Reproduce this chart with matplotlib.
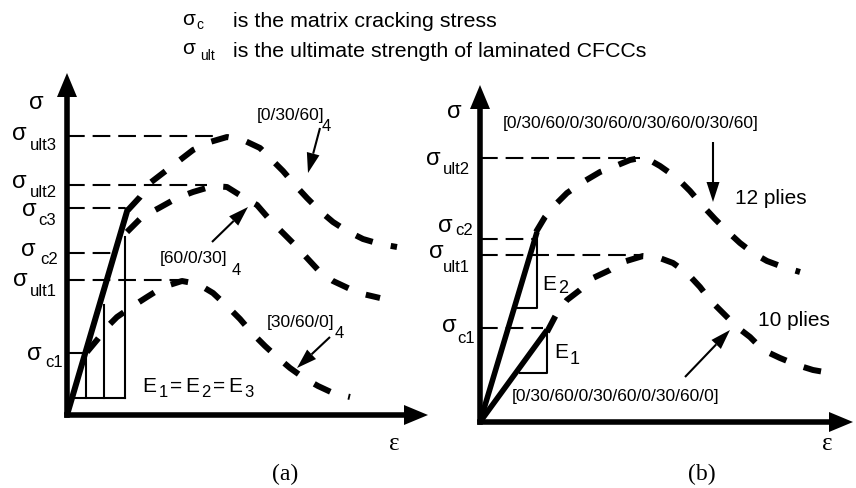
import matplotlib
matplotlib.use("Agg")
import matplotlib.pyplot as plt
from matplotlib.patches import Polygon

# ---------------- data (schematic units: stress / strain, arbitrary) ----------------
# Panel (a)
a_axis_x_max = 3.61
a_axis_y_max = 3.42
a_level_names = ["ult3", "ult2", "c3", "c2", "ult1", "c1"]
a_levels = [2.79, 2.30, 2.07, 1.62, 1.35, 0.62]
a_level_ends = [1.46, 1.40, 0.58, 0.48, 1.16, 0.19]
a_level_dashed = [True, True, True, True, True, False]
a_E_line_x = [0.0, 0.61]
a_E_line_y = [0.0, 2.07]
a_rect_x = [0.19, 0.37, 0.58]
a_rect_top = [0.62, 1.10, 1.78]
a_rect_bottom = 0.17
a_rect_left = 0.08

a_c3_x = [0.61, 0.73, 0.83, 0.96, 1.13, 1.26, 1.43, 1.60, 1.76, 1.93, 2.03, 2.16, 2.28, 2.40, 2.53, 2.66, 2.80, 2.96, 3.13, 3.30]
a_c3_y = [2.05, 2.18, 2.32, 2.42, 2.55, 2.65, 2.73, 2.78, 2.75, 2.67, 2.57, 2.44, 2.30, 2.17, 2.04, 1.93, 1.84, 1.76, 1.71, 1.68]
a_c2_x = [0.60, 0.75, 0.92, 1.10, 1.26, 1.46, 1.60, 1.76, 1.90, 2.03, 2.13, 2.28, 2.40, 2.53, 2.66, 2.83, 2.96, 3.13]
a_c2_y = [1.83, 1.98, 2.07, 2.17, 2.23, 2.29, 2.28, 2.18, 2.10, 1.95, 1.85, 1.70, 1.57, 1.43, 1.34, 1.26, 1.21, 1.17]
a_c1_x = [0.20, 0.30, 0.40, 0.50, 0.66, 0.80, 0.96, 1.15, 1.31, 1.46, 1.60, 1.73, 1.85, 1.98, 2.10, 2.23, 2.37, 2.51, 2.66, 2.83]
a_c1_y = [0.63, 0.75, 0.88, 0.98, 1.09, 1.18, 1.28, 1.34, 1.31, 1.22, 1.09, 0.96, 0.82, 0.69, 0.58, 0.47, 0.37, 0.29, 0.22, 0.18]
a_arrows = [((2.53, 2.87), (2.41, 2.42)), ((1.45, 1.73), (1.81, 2.08)), ((2.63, 0.78), (2.30, 0.47))]

# Panel (b)
b_axis_x_max = 3.73
b_axis_y_max = 3.37
b_level_names = ["ult2", "c2", "ult1", "c1"]
b_levels = [2.64, 1.83, 1.67, 0.94]
b_level_ends = [1.60, 0.57, 1.60, 0.63]
b_E2_x = [0.0, 0.57]
b_E2_y = [0.0, 1.90]
b_E1_x = [0.0, 0.67]
b_E1_y = [0.0, 0.92]
b_tri2 = (0.37, 0.57, 1.14)   # left x, right x, bottom y
b_tri1 = (0.40, 0.67, 0.49)
b_12_x = [0.56, 0.65, 0.75, 0.87, 1.03, 1.20, 1.33, 1.50, 1.60, 1.66, 1.80, 1.97, 2.10, 2.22, 2.35, 2.47, 2.60, 2.73, 2.87, 3.03, 3.20]
b_12_y = [1.90, 2.05, 2.17, 2.29, 2.40, 2.50, 2.55, 2.62, 2.64, 2.64, 2.56, 2.44, 2.31, 2.17, 2.03, 1.91, 1.79, 1.69, 1.61, 1.55, 1.50]
b_10_x = [0.67, 0.77, 0.87, 1.00, 1.13, 1.30, 1.43, 1.63, 1.77, 1.93, 2.07, 2.20, 2.30, 2.43, 2.57, 2.70, 2.83, 3.00, 3.17, 3.33, 3.50, 3.55]
b_10_y = [0.90, 1.09, 1.22, 1.32, 1.44, 1.52, 1.60, 1.66, 1.65, 1.59, 1.49, 1.35, 1.22, 1.09, 0.95, 0.85, 0.72, 0.64, 0.57, 0.52, 0.49, 0.48]
b_arrows = [((2.33, 2.80), (2.33, 2.20)), ((2.05, 0.45), (2.50, 0.92))]

SANS = ["Liberation Sans", "DejaVu Sans"]
SERIF = ["Liberation Serif", "DejaVu Serif"]

fig = plt.figure(figsize=(8.56, 4.88), dpi=100)
fig.patch.set_facecolor("white")

# pixel overlay for text
axp = fig.add_axes([0, 0, 1, 1])
axp.set_xlim(0, 856)
axp.set_ylim(488, 0)
axp.axis("off")

axa = fig.add_axes([0, 0, 1, 1])
axa.set_xlim(-0.67, 7.89)
axa.set_ylim(-0.73, 4.15)
axa.axis("off")
axa.patch.set_alpha(0)

axb = fig.add_axes([0, 0, 1, 1])
axb.set_xlim(-4.80, 3.76)
axb.set_ylim(-0.66, 4.22)
axb.axis("off")
axb.patch.set_alpha(0)

K = "black"
THIN_DASH = dict(color=K, lw=1.5, dashes=(8.5, 3.8))
THICK_DASH = dict(color=K, lw=4.3, dashes=(3.0, 3.1))


def axis_arrows(ax, xmax, ymax, lw=4.0):
    hl, hw = 0.24, 0.10
    ax.plot([0, 0], [0, ymax - hl], color=K, lw=lw, solid_capstyle="projecting")
    ax.plot([0, xmax - hl], [0, 0], color=K, lw=lw, solid_capstyle="projecting")
    ax.add_patch(Polygon([(-hw, ymax - hl), (hw, ymax - hl), (0, ymax)], closed=True, color=K, lw=0))
    ax.add_patch(Polygon([(xmax - hl, -hw), (xmax - hl, hw), (xmax, 0)], closed=True, color=K, lw=0))


def thin_arrow(ax, tail, tip, hl=0.20, hw=0.065):
    import math
    dx, dy = tip[0] - tail[0], tip[1] - tail[1]
    L = math.hypot(dx, dy)
    ux, uy = dx / L, dy / L
    bx, by = tip[0] - ux * hl, tip[1] - uy * hl
    ax.plot([tail[0], bx], [tail[1], by], color=K, lw=1.5, solid_capstyle="butt")
    ax.add_patch(Polygon([(bx - uy * hw, by + ux * hw), (bx + uy * hw, by - ux * hw), tip],
                         closed=True, color=K, lw=0))


# ---------------- panel (a) ----------------
axis_arrows(axa, a_axis_x_max, a_axis_y_max)
for lev, end, dsh in zip(a_levels, a_level_ends, a_level_dashed):
    if dsh:
        axa.plot([0, end], [lev, lev], **THIN_DASH)
    else:
        axa.plot([0, end], [lev, lev], color=K, lw=1.5)
for x, top in zip(a_rect_x, a_rect_top):
    axa.plot([x, x], [a_rect_bottom, top], color=K, lw=1.5)
axa.plot([a_rect_left, a_rect_x[-1]], [a_rect_bottom, a_rect_bottom], color=K, lw=1.5)
axa.plot(a_E_line_x, a_E_line_y, color=K, lw=4.3, solid_capstyle="butt")
for cx, cy in [(a_c3_x, a_c3_y), (a_c2_x, a_c2_y), (a_c1_x, a_c1_y)]:
    axa.plot(cx, cy, **THICK_DASH)
for tail, tip in a_arrows:
    thin_arrow(axa, tail, tip)

# ---------------- panel (b) ----------------
axis_arrows(axb, b_axis_x_max, b_axis_y_max)
for lev, end in zip(b_levels, b_level_ends):
    axb.plot([0, end], [lev, lev], **THIN_DASH)
for tri, ex, ey in [(b_tri2, b_E2_x, b_E2_y), (b_tri1, b_E1_x, b_E1_y)]:
    left, right, bottom = tri
    axb.plot([left, right, right], [bottom, bottom, ey[1]], color=K, lw=1.5)
axb.plot(b_E2_x, b_E2_y, color=K, lw=4.0, solid_capstyle="butt")
axb.plot(b_E1_x, b_E1_y, color=K, lw=4.0, solid_capstyle="butt")
axb.plot(b_12_x, b_12_y, **THICK_DASH)
axb.plot(b_10_x, b_10_y, **THICK_DASH)
for tail, tip in b_arrows:
    thin_arrow(axb, tail, tip)


# ---------------- text (pixel coordinates) ----------------
def T(x, y, s, size, family=SANS, **kw):
    axp.text(x, y, s, fontsize=size, family=family, ha="left", va="baseline", **kw)


# header
T(182, 25, "σ", 15)
T(196, 29, "c", 10)
T(233, 27, "is the matrix cracking stress", 15.4)
T(182, 54, "σ", 15)
T(200, 60, "ult", 10)
T(233, 57, "is the ultimate strength of laminated CFCCs", 15.4)

# panel a stress labels: (sigma x, sigma baseline, sub x, sub baseline)
a_label_pos = [(12, 140, 30, 150.5), (12, 188, 30, 197), (22, 216, 38, 225),
               (21, 256, 40, 264), (13, 286, 30, 296), (27, 360, 45, 367)]
for name, (sx, sy, ux, uy) in zip(a_level_names, a_label_pos):
    T(sx, sy, "σ", 17)
    T(ux, uy, name, 12)
T(29, 109, "σ", 17)

b_label_pos = [(426, 165, 443, 174), (438, 232, 455, 235), (429, 258, 443, 272), (442, 332, 457, 343)]
for name, (sx, sy, ux, uy) in zip(b_level_names, b_label_pos):
    T(sx, sy, "σ", 17)
    T(ux, uy, name, 12)
T(447, 118, "σ", 17)

# curve labels
T(257, 120, "[0/30/60]", 12.5)
T(322, 131, "4", 12)
T(160, 263, "[60/0/30]", 12.5)
T(232, 275, "4", 12)
T(267, 326.5, "[30/60/0]", 12.5)
T(335, 338, "4", 12)

# E1=E2=E3
x = 142
for s, size, dy in [("E", 15, 0), ("1", 12, 5), ("=", 15, 0), ("E", 15, 0), ("2", 12, 5),
                    ("=", 15, 0), ("E", 15, 0), ("3", 12, 5)]:
    t = axp.text(x, 392 + dy, s, fontsize=size, family=SANS, ha="left", va="baseline")
    bb = t.get_window_extent(fig.canvas.get_renderer())
    x += bb.width + 2.5

T(503, 128, "[0/30/60/0/30/60/0/30/60/0/30/60]", 12.5)
T(512, 401.5, "[0/30/60/0/30/60/0/30/60/0]", 12.5)
T(735, 204, "12 plies", 15)
T(758, 326, "10 plies", 15)
T(542, 290, "E", 15)
T(558, 293, "2", 13)
T(554, 358, "E", 15)
T(570, 364, "1", 13)

# epsilon and panel captions
T(389, 450, "ε", 18, family=SERIF)
T(822, 450, "ε", 18, family=SERIF)
T(272, 480, "(a)", 17, family=SERIF)
T(688, 480, "(b)", 17, family=SERIF)

fig.savefig("out.png", dpi=100, facecolor="white")
